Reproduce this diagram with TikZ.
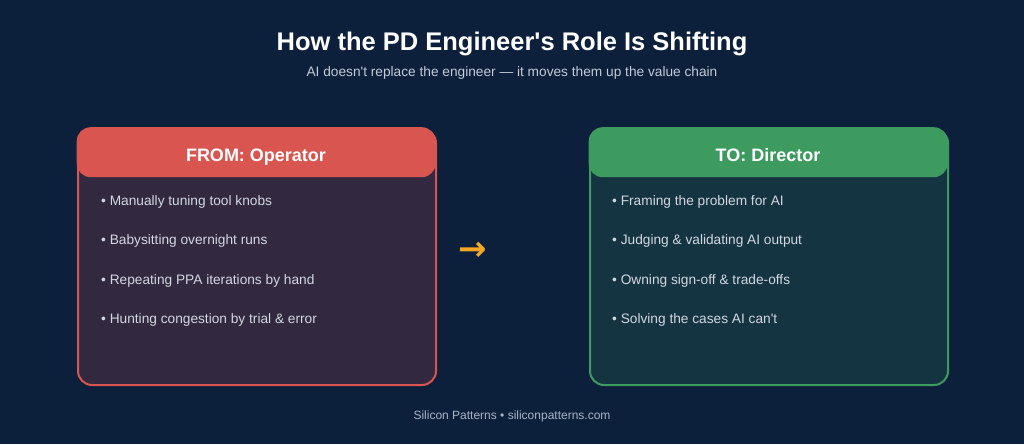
\documentclass[tikz,border=0pt]{standalone}
\usepackage{fontspec}
\setmainfont{Liberation Sans}[Ligatures=TeXOff]
\newfontfamily\symfont{DejaVu Sans}
\definecolor{bg}{HTML}{0C1F3B}
\definecolor{redhead}{HTML}{D95550}
\definecolor{redbody}{HTML}{32283F}
\definecolor{greenhead}{HTML}{3E9B60}
\definecolor{greenbody}{HTML}{153441}
\definecolor{subtxt}{HTML}{C3CCD8}
\definecolor{bullettxt}{HTML}{D2D8E2}
\definecolor{foottxt}{HTML}{A9B5C6}
\definecolor{arrowc}{HTML}{F5A623}
\tikzset{
  panel/.style={rounded corners=14pt, line width=2pt, minimum width=358pt, minimum height=256pt, anchor=north west, inner sep=0pt},
  headbox/.style={rounded corners=14pt, minimum width=359pt, minimum height=50pt, anchor=north west, inner sep=0pt},
  headtext/.style={anchor=base, inner sep=0pt, text=white, font=\fontsize{18}{21}\selectfont\bfseries},
  bullet/.style={anchor=base west, inner sep=0pt, text=bullettxt, font=\fontsize{13.7}{16}\selectfont},
}
\begin{document}
\begin{tikzpicture}[x=1pt,y=-1pt]
\fill[bg] (0,0) rectangle (1024,444);
\useasboundingbox (0,0) rectangle (1024,444);
\node[anchor=base, inner sep=0pt, text=white, font=\fontsize{25.5}{30}\selectfont\bfseries] (title) at (512,50) {How the PD Engineer's Role Is Shifting};
\node[anchor=base, inner sep=0pt, text=subtxt, font=\fontsize{13.7}{16}\selectfont] (sub) at (512,77) {AI doesn't replace the engineer — it moves them up the value chain};
% left panel
\node[panel, draw=redhead, fill=redbody] (from) at (77,128) {};
\node[headbox, fill=redhead] (fromhead) at (76.5,127) {};
\node[headtext] (fromtext) at (256,161.5) {FROM: Operator};
\node[bullet] (f1) at (101,205) {• Manually tuning tool knobs};
\node[bullet] (f2) at (101,244.5) {• Babysitting overnight runs};
\node[bullet] (f3) at (101,284) {• Repeating PPA iterations by hand};
\node[bullet] (f4) at (101,323) {• Hunting congestion by trial \& error};
% right panel
\node[panel, draw=greenhead, fill=greenbody] (to) at (589,128) {};
\node[headbox, fill=greenhead] (tohead) at (588.5,127) {};
\node[headtext] (totext) at (768,161.5) {TO: Director};
\node[bullet] (t1) at (612,205) {• Framing the problem for AI};
\node[bullet] (t2) at (612,244.5) {• Judging \& validating AI output};
\node[bullet] (t3) at (612,284) {• Owning sign-off \& trade-offs};
\node[bullet] (t4) at (612,323) {• Solving the cases AI can't};
% arrow
\node[text=arrowc, inner sep=0pt, font=\symfont\fontsize{34}{40}\selectfont\bfseries] (arr) at (473,251) {→};
\node[anchor=base, inner sep=0pt, text=foottxt, font=\fontsize{12}{14}\selectfont] (foot) at (512,419) {Silicon Patterns • siliconpatterns.com};
\end{tikzpicture}
\end{document}
